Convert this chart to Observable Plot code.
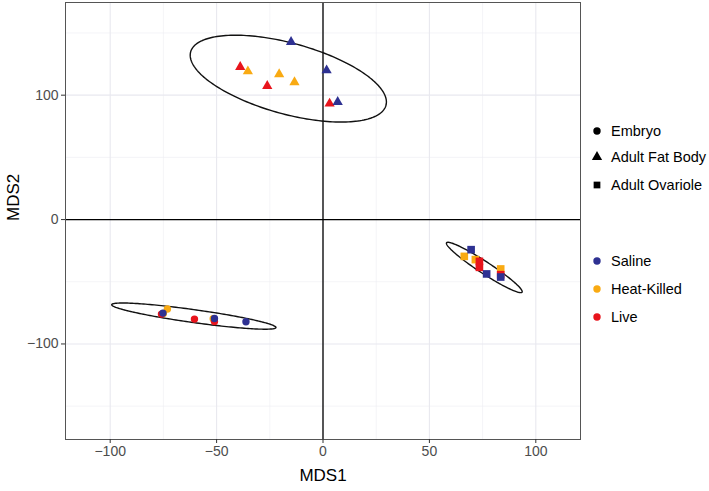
<!DOCTYPE html>
<html><head><meta charset="utf-8">
<script src="https://cdn.jsdelivr.net/npm/d3@7"></script>
<script src="https://cdn.jsdelivr.net/npm/@observablehq/plot@0.6"></script>
<style>
body{margin:0;background:#fff;font-family:"Liberation Sans",Arial,sans-serif;}
#wrap{position:relative;width:709px;height:491px;overflow:hidden;}
#legend{position:absolute;left:0;top:0;width:709px;height:491px;pointer-events:none;}
.item{position:absolute;left:588px;height:20px;display:flex;align-items:center;font-size:14.5px;color:#000;white-space:nowrap;}
.item svg{width:18px;height:20px;margin-right:5px;}
</style></head><body>
<div id="wrap"><div id="chart"></div><div id="legend"></div></div>
<script>
// ---- data ----
const tissue = [
  "Adult Fat Body","Adult Fat Body","Adult Fat Body","Adult Fat Body","Adult Fat Body","Adult Fat Body","Adult Fat Body","Adult Fat Body","Adult Fat Body",
  "Adult Ovariole","Adult Ovariole","Adult Ovariole","Adult Ovariole","Adult Ovariole","Adult Ovariole","Adult Ovariole","Adult Ovariole","Adult Ovariole",
  "Embryo","Embryo","Embryo","Embryo","Embryo","Embryo","Embryo","Embryo","Embryo"
];
const treatment = [
  "Live","Live","Live","Heat-Killed","Heat-Killed","Heat-Killed","Saline","Saline","Saline",
  "Heat-Killed","Heat-Killed","Heat-Killed","Live","Live","Live","Saline","Saline","Saline",
  "Heat-Killed","Heat-Killed","Heat-Killed","Live","Live","Live","Saline","Saline","Saline"
];
const mds1 = [
  -38.9, -26.2, 3.1, -35.3, -20.6, -13.4, -15.0, 1.7, 6.9,
  66.4, 71.6, 83.5, 73.5, 73.5, 83.5, 69.6, 76.9, 83.5,
  -73.1, -75.0, -51.6, -75.9, -60.4, -51.0, -75.2, -51.0, -36.2
];
const mds2 = [
  122.7, 107.4, 93.2, 119.2, 116.8, 110.4, 142.8, 120.0, 94.5,
  -29.6, -32.2, -39.7, -33.6, -38.4, -44.3, -24.2, -43.7, -46.2,
  -71.9, -75.5, -79.7, -76.0, -80.0, -81.9, -75.2, -79.5, -82.2
];
const tissueLevels = ["Embryo","Adult Fat Body","Adult Ovariole"];
const tissueShapes = ["circle","triangle","square"];
const treatmentLevels = ["Saline","Heat-Killed","Live"];
const treatmentColors = ["#2E3192","#F9AA12","#E8141C"];
// 95% ellipses: centre and covariance
const ellTissue = ["Adult Fat Body","Adult Ovariole","Embryo"];
const ellCx = [-16.3, 75.8, -60.7];
const ellCy = [113.3, -38.5, -77.6];
const ellVarX = [2125, 317, 1490];
const ellVarY = [1218, 410, 111];
const ellCov = [-867, -346, -353];
const xTicks = [-100, -50, 0, 50, 100];
const yTicks = [-100, 0, 100];
const xMinor = [-75, -25, 25, 75];
const yMinor = [-150, -50, 50, 150];
const xDomain = [-121, 121];
const yDomain = [-176.8, 174.5];

// ---- build tables ----
const rows = tissue.map((t, i) => ({tissue: t, treatment: treatment[i], x: mds1[i], y: mds2[i]}));
const ellPts = [];
ellTissue.forEach((t, k) => {
  const l11 = Math.sqrt(ellVarX[k]);
  const l21 = ellCov[k] / l11;
  const l22 = Math.sqrt(ellVarY[k] - l21 * l21);
  d3.range(0, 201).forEach(j => {
    const a = j / 200 * 2 * Math.PI;
    ellPts.push({tissue: t, x: ellCx[k] + l11 * Math.cos(a), y: ellCy[k] + l21 * Math.cos(a) + l22 * Math.sin(a)});
  });
});
const sizes = {"Embryo": 3.7, "Adult Fat Body": 3.8, "Adult Ovariole": 4.3};

const dotMarks = tissueLevels.map(t => Plot.dot(rows.filter(d => d.tissue === t), {
  x: "x", y: "y", fill: "treatment", symbol: "tissue", r: sizes[t], stroke: null
}));

const chart = Plot.plot({
  width: 709, height: 491,
  marginLeft: 65, marginRight: 129, marginTop: 2, marginBottom: 52,
  style: {fontFamily: "'Liberation Sans', Arial, sans-serif", background: "#fff"},
  x: {domain: xDomain, label: null},
  y: {domain: yDomain, label: null},
  color: {domain: treatmentLevels, range: treatmentColors},
  symbol: {domain: tissueLevels, range: tissueShapes},
  marks: [
    Plot.gridX(xMinor, {stroke: "#ececf2", strokeOpacity: 1, strokeWidth: 0.6}),
    Plot.gridY(yMinor, {stroke: "#ececf2", strokeOpacity: 1, strokeWidth: 0.6}),
    Plot.gridX(xTicks, {stroke: "#e8e8ef", strokeOpacity: 1, strokeWidth: 1.1}),
    Plot.gridY(yTicks, {stroke: "#e8e8ef", strokeOpacity: 1, strokeWidth: 1.1}),
    Plot.ruleX([0], {stroke: "#000", strokeWidth: 1.3}),
    Plot.ruleY([0], {stroke: "#000", strokeWidth: 1.3}),
    Plot.line(ellPts, {x: "x", y: "y", z: "tissue", stroke: "#111", strokeWidth: 1.4}),
    ...dotMarks,
    Plot.frame({stroke: "#555", strokeWidth: 1}),
    Plot.axisX({ticks: xTicks, tickSize: 4, tickPadding: 3, fontSize: 14, color: "#4d4d4d", stroke: "#333", label: null}),
    Plot.axisY({ticks: yTicks, tickSize: 4, tickPadding: 3, fontSize: 14, color: "#4d4d4d", stroke: "#333", label: null, tickFormat: d => d3.format("")(d).replace("-", "\u2212")}),
    Plot.text(["MDS1"], {frameAnchor: "bottom", dy: 36, text: d => d, fontSize: 17, fill: "#000", lineAnchor: "middle"}),
    Plot.text(["MDS2"], {frameAnchor: "left", dx: -52, text: d => d, fontSize: 17, fill: "#000", rotate: -90, lineAnchor: "middle"})
  ]
});
document.getElementById("chart").appendChild(chart);

// ---- legend ----
const legend = d3.select("#legend");
const legendTops = {shape: [131, 157, 185], color: [261, 289, 317]};
const symArea = {"circle": Math.PI * 3.7 * 3.7, "triangle": Math.PI * 3.8 * 3.8, "square": Math.PI * 3.8 * 3.8};
const symMap = {"circle": d3.symbolCircle, "triangle": d3.symbolTriangle, "square": d3.symbolSquare};
tissueLevels.forEach((t, i) => {
  const it = legend.append("div").attr("class", "item").style("top", (legendTops.shape[i] - 10) + "px");
  const s = it.append("svg");
  s.append("path").attr("transform", "translate(9,10)")
    .attr("d", d3.symbol(symMap[tissueShapes[i]], symArea[tissueShapes[i]])()).attr("fill", "#000");
  it.append("span").text(t);
});
treatmentLevels.forEach((t, i) => {
  const it = legend.append("div").attr("class", "item").style("top", (legendTops.color[i] - 10) + "px");
  const s = it.append("svg");
  s.append("circle").attr("cx", 9).attr("cy", 10).attr("r", 3.7).attr("fill", treatmentColors[i]);
  it.append("span").text(t);
});
</script>
</body></html>
